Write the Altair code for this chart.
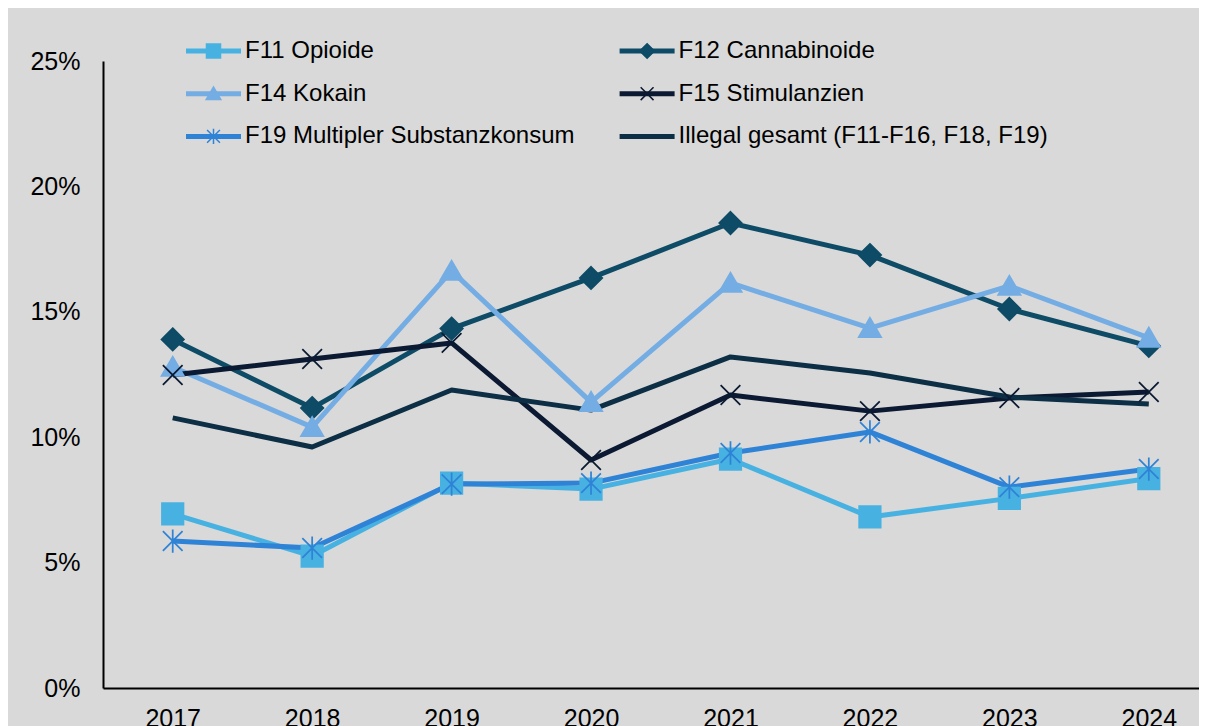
import altair as alt
import pandas as pd

years = [2017, 2018, 2019, 2020, 2021, 2022, 2023, 2024]

series = [
    "F11 Opioide",
    "F12 Cannabinoide",
    "F14 Kokain",
    "F15 Stimulanzien",
    "F19 Multipler Substanzkonsum",
    "Illegal gesamt (F11-F16, F18, F19)",
]

f11 = [6.94, 5.26, 8.17, 7.93, 9.13, 6.82, 7.56, 8.35]
f12 = [13.90, 11.16, 14.33, 16.35, 18.54, 17.26, 15.11, 13.64]
f14 = [12.80, 10.40, 16.63, 11.40, 16.15, 14.35, 16.03, 13.96]
f15 = [12.48, 13.12, 13.76, 9.09, 11.68, 11.04, 11.56, 11.80]
f19 = [5.86, 5.58, 8.13, 8.17, 9.37, 10.21, 8.01, 8.73]
illegal = [10.77, 9.61, 11.88, 11.08, 13.20, 12.56, 11.60, 11.32]

values = [f11, f12, f14, f15, f19, illegal]

colors = ["#47b2e2", "#0e4b66", "#74ade4", "#0b1a32", "#2f83d6", "#0c2f45"]
fills = ["#47b2e2", "#0e4b66", "#74ade4", "transparent", "transparent", "transparent"]
strokes = ["#47b2e2", "#0e4b66", "#74ade4", "#0b1a32", "#2f83d6", "transparent"]
shapes = [
    "M-0.24,-0.24L0.24,-0.24L0.24,0.24L-0.24,0.24Z",
    "M0,-0.25L0.25,0L0,0.25L-0.25,0Z",
    "M-0.25,0.2L0.25,0.2L0,-0.23Z",
    "M-0.22,-0.22L0.22,0.22M-0.22,0.22L0.22,-0.22",
    "M-0.22,-0.22L0.22,0.22M-0.22,0.22L0.22,-0.22M0,-0.26L0,0.26",
    "M0,0",
]

rows = []
for s, vals in zip(series, values):
    for y, v in zip(years, vals):
        rows.append({"year": y, "value": v / 100.0, "series": s, "series_pt": s})
df = pd.DataFrame(rows)

FONT = "Liberation Sans"

x_enc = alt.X(
    "year:Q",
    scale=alt.Scale(domain=[2016.5, 2024.36], nice=False, zero=False),
    axis=alt.Axis(
        values=years, format="d", title=None, grid=False, ticks=False, tickSize=0,
        domainColor="#000000", domainWidth=2, labelFont=FONT, labelFontSize=25,
        labelColor="#000000", labelPadding=18, labelFlush=False, labelOverlap=False,
    ),
)
y_enc = alt.Y(
    "value:Q",
    scale=alt.Scale(domain=[0, 0.25], nice=False, zero=True),
    axis=alt.Axis(
        values=[0, 0.05, 0.10, 0.15, 0.20, 0.25], format=".0%", title=None, grid=False,
        ticks=False, tickSize=0, domainColor="#000000", domainWidth=2, labelFont=FONT,
        labelFontSize=25, labelColor="#000000", labelPadding=23, labelFlush=False,
        labelOverlap=False,
    ),
)

leg_common = dict(
    orient="none", legendX=80.5, legendY=-21, columns=2, direction="horizontal",
    columnPadding=42.6, rowPadding=18.7, clipHeight=22, labelFont=FONT, labelFontSize=24,
    labelColor="#000000", labelOffset=1.5, labelLimit=0, title=None, symbolLimit=0,
)

line_legend = alt.Legend(symbolType="stroke", symbolSize=3025, symbolStrokeWidth=5, **leg_common)
pt_legend = alt.Legend(symbolSize=3422, symbolStrokeWidth=1.5, labelOpacity=0, **leg_common)

lines = alt.Chart(df).mark_line(strokeWidth=5, strokeJoin="round").encode(
    x=x_enc,
    y=y_enc,
    color=alt.Color("series:N", scale=alt.Scale(domain=series, range=colors), legend=line_legend),
)

points = alt.Chart(df).mark_point(size=8000, strokeWidth=1.75, opacity=1).encode(
    x=x_enc,
    y=y_enc,
    shape=alt.Shape("series_pt:N", scale=alt.Scale(range=shapes), legend=pt_legend),
    fill=alt.Fill("series_pt:N", scale=alt.Scale(range=fills), legend=pt_legend),
    stroke=alt.Stroke("series_pt:N", scale=alt.Scale(range=strokes), legend=pt_legend),
)

chart = (
    alt.layer(lines, points)
    .properties(
        width=1096,
        height=627,
        padding={"left": 95, "top": 53, "right": 0, "bottom": 38},
        autosize=alt.AutoSizeParams(type="none", contains="content"),
    )
    .configure(background="#d9d9d9")
    .configure_view(stroke=None)
)

chart.save("out.html", embed_options={"renderer": "svg", "actions": False})
